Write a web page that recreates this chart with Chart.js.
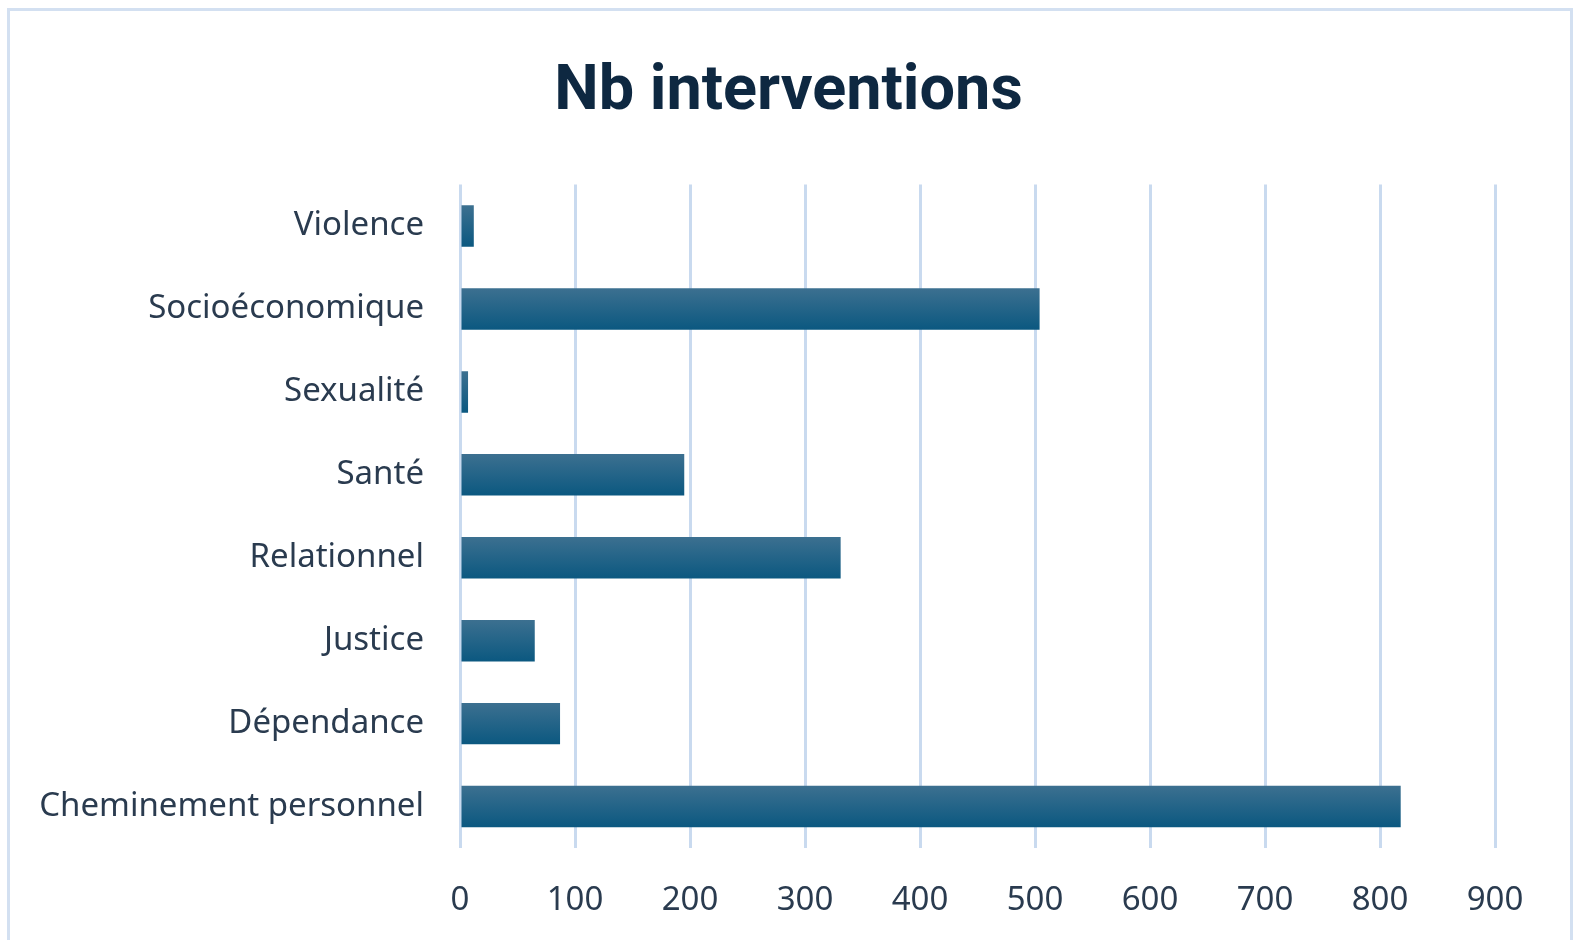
<!DOCTYPE html>
<html>
<head>
<meta charset="utf-8">
<script src="https://cdn.jsdelivr.net/npm/chart.js@4"></script>
<style>
  html, body { margin: 0; padding: 0; background: #fff; }
  #wrap { position: relative; width: 1577px; height: 940px; overflow: hidden; }
  #frame {
    position: absolute; left: 7px; top: 8px; width: 1560px; height: 940px;
    border: 3px solid #d3e0f1; border-bottom: none;
  }
  canvas { position: absolute; left: 0; top: 0; }
</style>
</head>
<body>
<div id="wrap">
  <div id="frame"></div>
  <canvas id="myChart" width="1577" height="940"></canvas>
</div>
<script>
const categories = [
    'Violence',
    'Socioéconomique',
    'Sexualité',
    'Santé',
    'Relationnel',
    'Justice',
    'Dépendance',
    'Cheminement personnel',
]
const interventions = [12, 504, 7, 195, 331, 65, 87, 818]
const xTicks = [0, 100, 200, 300, 400, 500, 600, 700, 800, 900]

const labelColor = '#2a3b4f'

// vertical gradient on each bar, built from the bar's own y position
const barGradient = (ctx) => {
    const chart = ctx.chart
    const yScale = chart.scales.y
    if (!yScale || ctx.dataIndex === undefined) return '#1a5f85'
    const mid = yScale.getPixelForValue(ctx.dataIndex)
    const half = yScale.height / categories.length / 4
    if (!isFinite(mid) || !isFinite(half) || half <= 0) return '#1a5f85'
    const g = chart.ctx.createLinearGradient(0, mid - half, 0, mid + half)
    g.addColorStop(0, '#3c7090')
    g.addColorStop(1, '#0b5880')
    return g
}

const data = {
    labels: categories,
    datasets: [{
        label: 'Nb interventions',
        data: interventions,
        backgroundColor: barGradient,
        borderWidth: 0,
        categoryPercentage: 1,
        barPercentage: 0.5,
    }]
}

const config = {
    type: 'bar',
    data: data,
    options: {
        indexAxis: 'y',
        responsive: false,
        animation: false,
        layout: { padding: 0 },
        plugins: {
            legend: { display: false },
            tooltip: { enabled: false },
            title: {
                display: true,
                text: 'Nb interventions',
                color: '#0e2841',
                font: { family: 'Roboto', size: 63, weight: 'bold' },
                padding: { top: 55, bottom: 54 },
            }
        },
        scales: {
            x: {
                min: 0,
                max: 900,
                afterBuildTicks: (scale) => {
                    scale.ticks = xTicks.map(v => ({ value: v }))
                },
                afterFit: (scale) => { scale.height = 92 },
                grid: { color: '#c9daef', lineWidth: 3, drawTicks: false },
                border: { display: false },
                ticks: {
                    color: labelColor,
                    padding: 33,
                    font: { family: 'Noto Sans', size: 33 },
                }
            },
            y: {
                afterFit: (scale) => { scale.width = 460 },
                grid: { display: false, drawTicks: false },
                border: { display: false },
                ticks: {
                    color: labelColor,
                    padding: 36,
                    font: { family: 'Noto Sans', size: 33 },
                }
            },
            // empty right-hand axis, only to leave room right of the plot
            spacer: {
                type: 'linear',
                position: 'right',
                axis: 'y',
                afterFit: (scale) => { scale.width = 82 },
                grid: { display: false, drawTicks: false },
                border: { display: false },
                ticks: { display: false },
            }
        }
    }
}

const myChart = new Chart(
    document.getElementById('myChart'),
    config
)
</script>
</body>
</html>
